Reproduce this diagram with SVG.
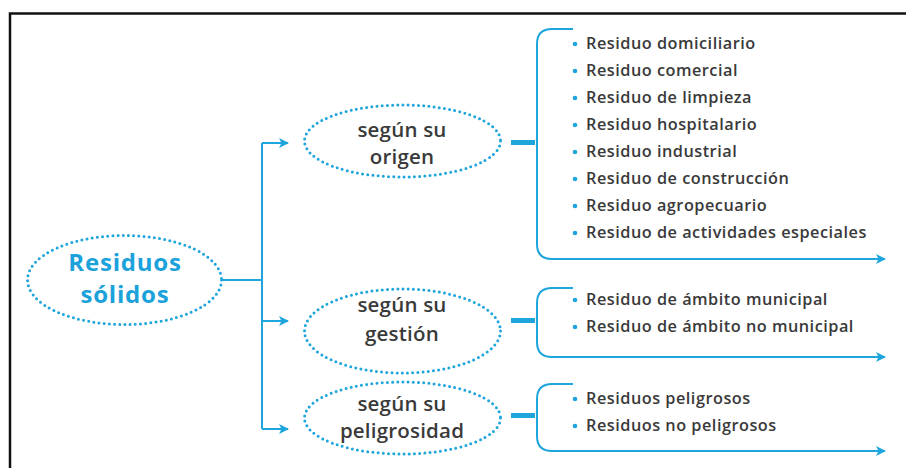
<svg xmlns="http://www.w3.org/2000/svg" width="906" height="468" viewBox="0 0 906 468">
<style>
.ln{fill:none;stroke:#1ea5dc;stroke-width:2}
.bar{fill:none;stroke:#1ea5dc;stroke-width:5}
.dot{fill:none;stroke:#1ea5dc;stroke-width:3;stroke-linecap:round;stroke-dasharray:0 5.2}
.main{font-family:"Open Sans",sans-serif;font-weight:700;font-size:24px;letter-spacing:0.8px;fill:#1ba2db;text-anchor:middle}
.cat{font-family:"Open Sans",sans-serif;font-weight:600;font-size:20.5px;letter-spacing:0.2px;fill:#3a3a3a;text-anchor:middle}
.it{font-family:"Open Sans",sans-serif;font-weight:600;font-size:16.3px;letter-spacing:0.5px;fill:#3a3a3a}
.bul{fill:#1ea5dc}
</style>
<defs>
<marker id="ah" viewBox="0 0 10 10" refX="9" refY="5" markerWidth="10" markerHeight="10" markerUnits="userSpaceOnUse" orient="auto">
<path d="M0,0 L10,5 L0,10 L2.5,5 Z" fill="#1ea5dc"/>
</marker>
</defs>
<rect width="906" height="468" fill="#fff"/>
<path d="M10,480 V13.5 H920" fill="none" stroke="#111" stroke-width="2.5"/>

<g id="connectors">
<path class="ln" d="M222,280 H262"/>
<path class="ln" d="M262,143 V429"/>
<path class="ln" d="M262,143 H288" marker-end="url(#ah)"/>
<path class="ln" d="M262,321 H288" marker-end="url(#ah)"/>
<path class="ln" d="M262,429 H288" marker-end="url(#ah)"/>
<path class="bar" d="M511,142.5 H535"/>
<path class="ln" d="M573,29 H552 Q537,29 537,44 V244 Q537,259 552,259 H885" marker-end="url(#ah)"/>
<path class="bar" d="M511,320.5 H535"/>
<path class="ln" d="M573,288 H552 Q537,288 537,303 V342 Q537,357 552,357 H885" marker-end="url(#ah)"/>
<path class="bar" d="M511,415.5 H535"/>
<path class="ln" d="M573,384 H552 Q537,384 537,399 V436 Q537,451 552,451 H885" marker-end="url(#ah)"/>
</g>

<g id="residuos-solidos">
<ellipse class="dot" cx="124.5" cy="280" rx="97" ry="44.5"/>
<text class="main" x="125" y="271">Residuos</text>
<text class="main" x="125" y="303">sólidos</text>
</g>

<g id="segun-origen">
<ellipse class="dot" cx="402.5" cy="141" rx="98" ry="36"/>
<text class="cat" x="402" y="137">según su</text>
<text class="cat" x="402" y="164">origen</text>
</g>

<g id="segun-gestion">
<ellipse class="dot" cx="402.5" cy="331" rx="98" ry="42"/>
<text class="cat" x="402" y="312">según su</text>
<text class="cat" x="402" y="341">gestión</text>
</g>

<g id="segun-peligrosidad">
<ellipse class="dot" cx="402.5" cy="418" rx="98" ry="36"/>
<text class="cat" x="402" y="411">según su</text>
<text class="cat" x="402" y="438">peligrosidad</text>
</g>

<g id="lista-origen">
<circle class="bul" cx="575" cy="44" r="2.3"/><text class="it" x="586" y="49">Residuo domiciliario</text>
<circle class="bul" cx="575" cy="71" r="2.3"/><text class="it" x="586" y="76">Residuo comercial</text>
<circle class="bul" cx="575" cy="98" r="2.3"/><text class="it" x="586" y="103">Residuo de limpieza</text>
<circle class="bul" cx="575" cy="125" r="2.3"/><text class="it" x="586" y="130">Residuo hospitalario</text>
<circle class="bul" cx="575" cy="152" r="2.3"/><text class="it" x="586" y="157">Residuo industrial</text>
<circle class="bul" cx="575" cy="179" r="2.3"/><text class="it" x="586" y="184">Residuo de construcción</text>
<circle class="bul" cx="575" cy="206" r="2.3"/><text class="it" x="586" y="211">Residuo agropecuario</text>
<circle class="bul" cx="575" cy="233" r="2.3"/><text class="it" x="586" y="238">Residuo de actividades especiales</text>
</g>

<g id="lista-gestion">
<circle class="bul" cx="575" cy="300" r="2.3"/><text class="it" x="586" y="305">Residuo de ámbito municipal</text>
<circle class="bul" cx="575" cy="327" r="2.3"/><text class="it" x="586" y="332">Residuo de ámbito no municipal</text>
</g>

<g id="lista-peligrosidad">
<circle class="bul" cx="575" cy="399" r="2.3"/><text class="it" x="586" y="404">Residuos peligrosos</text>
<circle class="bul" cx="575" cy="426" r="2.3"/><text class="it" x="586" y="431">Residuos no peligrosos</text>
</g>
</svg>
